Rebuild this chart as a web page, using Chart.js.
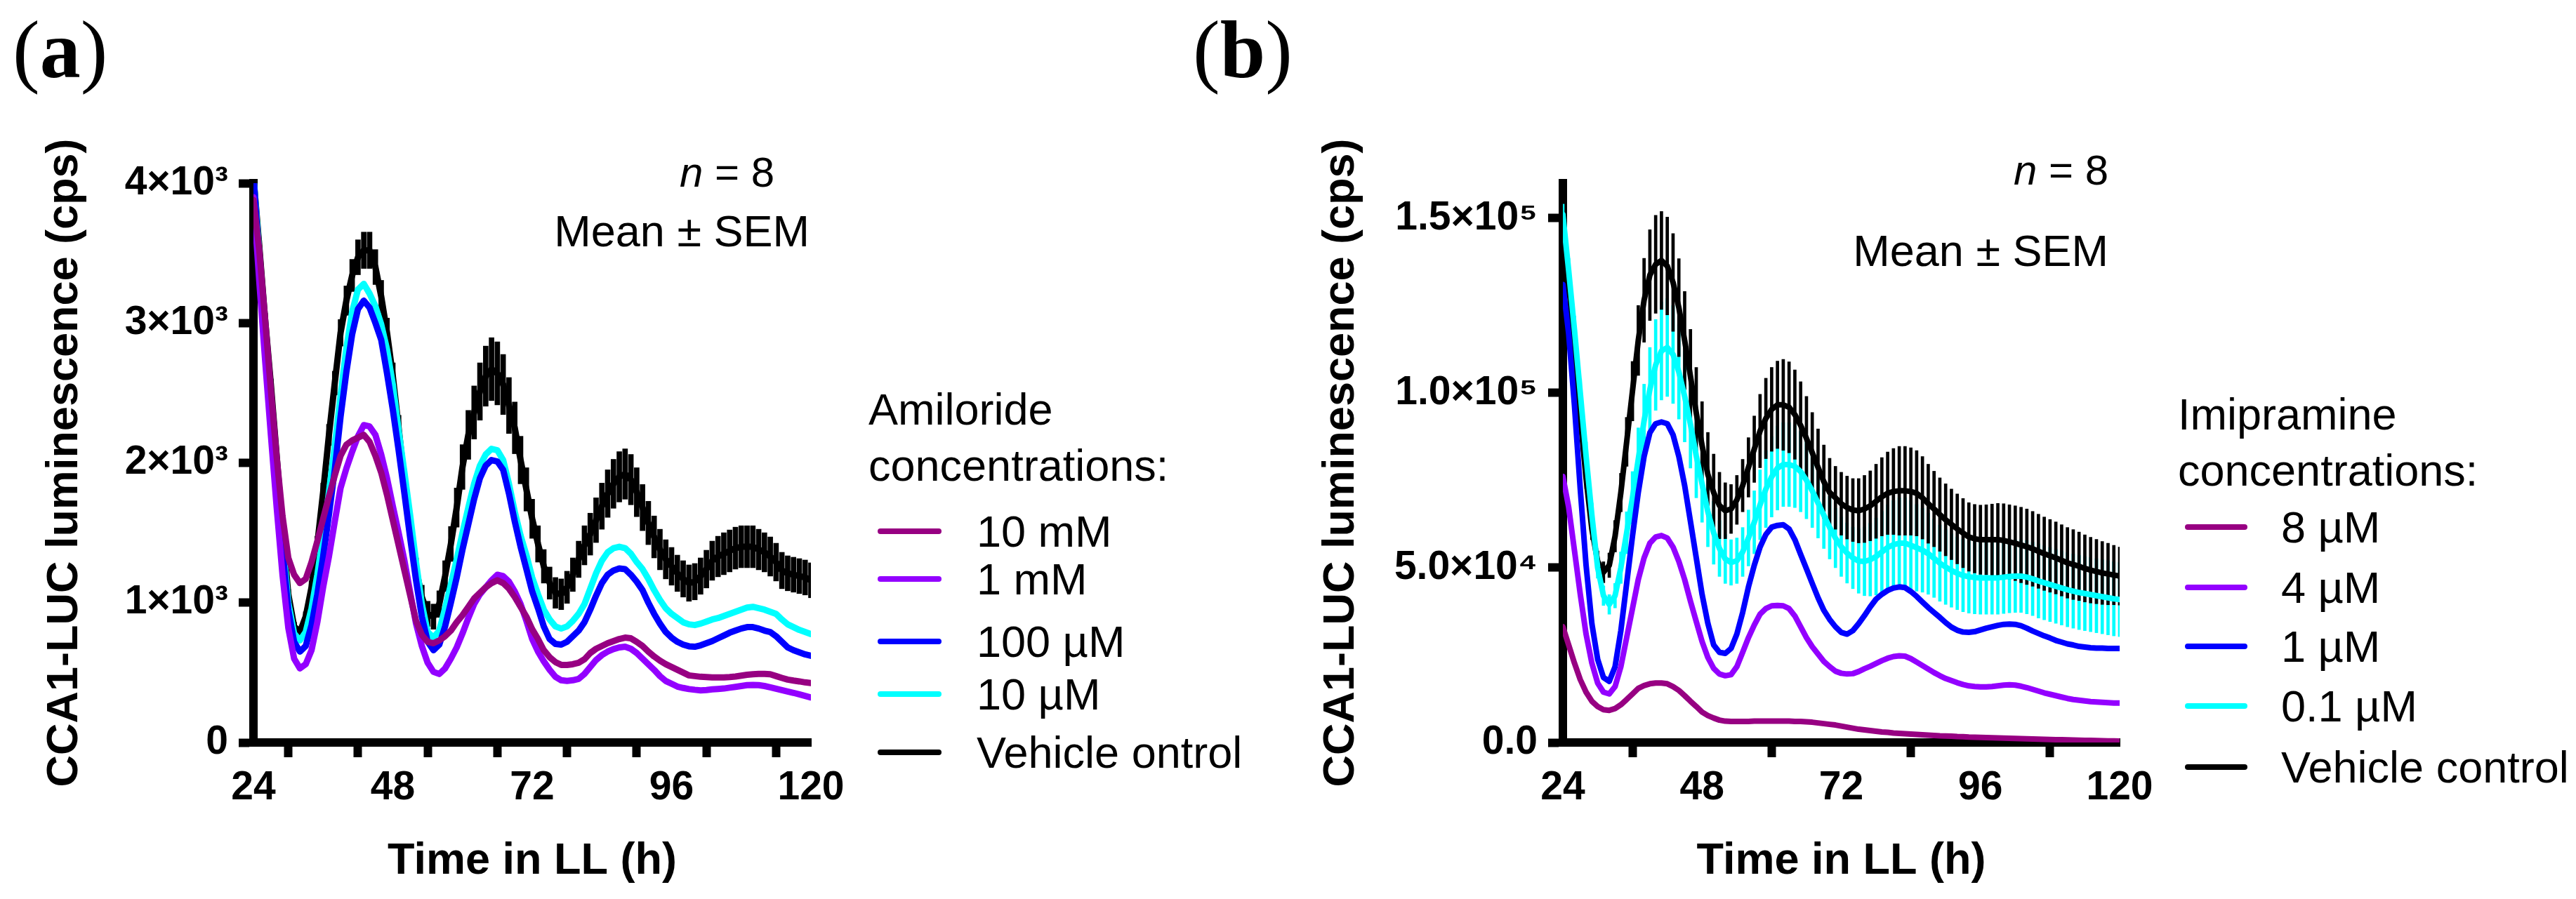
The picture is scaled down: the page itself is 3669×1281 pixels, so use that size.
<!DOCTYPE html>
<html>
<head>
<meta charset="utf-8">
<script src="https://cdn.jsdelivr.net/npm/chart.js@4.4.1/dist/chart.umd.min.js"></script>
<style>
  html, body { margin: 0; padding: 0; background: #fff; }
  #wrap { position: relative; width: 3669px; height: 1281px; overflow: hidden; background: #fff; }
  canvas { position: absolute; top: 0; }
</style>
</head>
<body>
<div id="wrap">
  <canvas id="chartA" width="1830" height="1281" style="left:0"></canvas>
  <canvas id="chartB" width="2019" height="1281" style="left:1650px"></canvas>
</div>
<script>
// time points (h in LL)
const hours = [24,25,26,27,28,29,30,31,32,33,34,35,36,37,38,39,40,41,42,43,44,45,46,47,48,49,50,51,52,53,54,55,56,57,58,59,60,
  61,62,63,64,65,66,67,68,69,70,71,72,73,74,75,76,77,78,79,80,81,82,83,84,85,86,87,88,89,90,91,92,93,94,95,96,97,98,99,100,
  101,102,103,104,105,106,107,108,109,110,111,112,113,114,115,116,117,118,119,120];

/* ---- panel (a) amiloride ---- */
const amilorideLabels = ['10 mM', '1 mM', '100 µM', '10 µM', 'Vehicle ontrol'];

const amil10mM = [3880,3520,3030,2520,2040,1620,1320,1200,1140,1170,
  1290,1440,1600,1760,1910,2050,2130,2160,2180,2200,
  2150,2050,1930,1770,1590,1410,1230,1050,870,770,
  720,710,730,760,800,860,910,970,1030,1070,
  1110,1140,1160,1140,1100,1040,970,900,810,740,
  660,610,575,555,555,560,570,595,640,670,
  690,710,725,740,750,745,720,690,650,615,
  585,560,540,520,500,480,475,470,468,465,
  465,465,468,472,478,484,488,490,490,488,
  475,462,450,443,437,430,425];
const amil1mM = [3900,3300,2740,2200,1680,1200,820,600,530,560,
  660,860,1110,1330,1580,1820,1960,2080,2190,2270,
  2260,2200,2060,1890,1690,1500,1300,1070,850,690,
  570,505,490,530,600,680,780,890,990,1060,
  1110,1160,1200,1190,1150,1080,990,870,740,650,
  580,520,470,445,440,445,455,490,540,590,
  625,650,668,680,685,670,640,600,560,520,
  475,440,420,400,390,382,377,373,375,380,
  383,386,392,398,404,410,412,410,404,395,
  385,375,365,355,344,333,322];
const amil100uM = [4050,3450,2900,2380,1870,1380,950,720,650,690,
  840,1060,1330,1630,1950,2330,2650,2920,3100,3160,
  3110,3000,2880,2640,2380,2090,1780,1460,1160,900,
  720,660,700,830,1000,1180,1380,1560,1740,1890,
  1980,2020,2010,1950,1780,1580,1400,1240,1080,960,
  830,740,705,700,720,760,800,860,950,1050,
  1140,1200,1230,1245,1240,1200,1150,1090,1000,920,
  850,790,750,720,700,688,685,695,710,725,
  745,765,785,800,815,825,825,815,800,790,
  760,720,680,660,645,630,620];
const amil10uM = [4050,3500,2950,2450,1950,1450,1000,780,730,790,
  960,1200,1480,1790,2120,2480,2820,3080,3240,3280,
  3210,3120,2990,2810,2560,2230,1930,1620,1290,990,
  790,750,800,960,1130,1310,1500,1680,1850,1980,
  2060,2100,2090,2020,1850,1650,1480,1340,1180,1060,
  950,880,830,815,830,870,920,990,1100,1210,
  1300,1360,1390,1400,1390,1350,1290,1240,1170,1090,
  1020,960,920,890,860,845,840,850,865,880,
  890,905,920,935,950,965,970,960,950,935,
  920,880,845,825,805,790,775];
const amilVehicle = [4050,3550,3030,2560,2050,1530,1060,830,790,900,
  1110,1420,1790,2200,2570,2930,3160,3340,3470,3520,
  3520,3400,3190,2930,2620,2250,1870,1530,1240,1040,
  920,900,990,1190,1420,1680,1970,2200,2360,2510,
  2620,2670,2640,2560,2410,2250,2020,1810,1600,1420,
  1260,1140,1070,1060,1110,1200,1310,1410,1490,1590,
  1690,1780,1850,1900,1920,1880,1790,1680,1570,1470,
  1380,1310,1260,1210,1170,1140,1150,1190,1240,1300,
  1330,1350,1370,1390,1400,1400,1400,1380,1360,1330,
  1290,1230,1210,1200,1190,1180,1160];
const amilVehicleSem = [40,40,40,40,40,40,35,30,30,35,
  45,55,65,75,85,95,105,115,125,130,
  130,125,115,105,95,90,85,80,80,85,
  90,90,95,110,125,140,160,175,190,205,
  215,225,225,215,200,185,170,155,140,130,
  120,115,110,110,115,120,130,140,150,160,
  165,170,175,180,180,180,175,165,155,150,
  145,140,135,130,130,130,130,130,135,140,
  145,150,150,150,150,150,150,145,140,140,
  135,130,125,125,125,125,125];

const xTickValuesA = [24, 36, 48, 60, 72, 84, 96, 108, 120];
const xTickLabelsA = ['24', '', '48', '', '72', '', '96', '', '120'];
const yTickValuesA = [0, 1000, 2000, 3000, 4000];
const yTickLabelsA = ['0', '1×10³', '2×10³', '3×10³', '4×10³'];

/* ---- panel (b) imipramine ---- */
const imipramineLabels = ['8 µM', '4 µM', '1 µM', '0.1 µM', 'Vehicle control'];

const imip8uM = [33100,27900,22700,18000,14400,11800,10300,9400,9200,9700,
  10800,12300,13900,15500,16300,16800,17000,17000,16800,16000,
  14900,13400,11800,10300,8700,7700,7000,6400,6100,6000,
  6000,6000,6000,6100,6100,6100,6100,6100,6100,6100,
  6000,6000,5900,5800,5600,5400,5200,5000,4700,4400,
  4100,3800,3600,3400,3200,3000,2900,2700,2600,2500,
  2400,2300,2200,2100,2000,1900,1850,1800,1700,1650,
  1550,1500,1450,1400,1350,1300,1250,1200,1150,1100,
  1050,1000,950,900,850,820,780,740,700,660,
  620,580,540,500,470,440,400];
const imip4uM = [76100,67300,54900,42400,31000,22700,17000,14400,13900,16000,
  21700,30000,38300,46600,52800,57000,58800,59200,58500,55900,
  51800,46600,40400,34600,28900,24300,21200,19600,19100,19400,
  21700,25800,30000,33600,36700,38300,39100,39200,39100,38300,
  36200,33100,30000,27400,25300,23200,21700,20400,19800,19600,
  19700,20300,21100,21800,22600,23400,24100,24600,24800,24700,
  24000,23000,22000,21000,20000,19100,18300,17700,17100,16600,
  16200,16000,15900,15900,16000,16200,16400,16500,16400,16100,
  15700,15200,14700,14200,13800,13400,13000,12600,12300,12100,
  11900,11700,11600,11500,11400,11300,11300];
const imip1uM = [131000,117000,96400,72500,50700,34000,23800,18600,17500,21700,
  32000,45500,59000,71500,81800,88600,91200,91700,91200,88000,
  81800,73500,63200,52800,42400,34100,27900,25800,25500,26900,
  31000,37200,44500,50700,55900,59500,61600,62100,62300,61100,
  58000,53800,49700,45500,41400,37800,35200,33100,31500,31000,
  32000,34000,36300,38800,41000,42400,43500,44200,44500,44300,
  43200,41800,40200,38600,37200,35800,34300,33000,32100,31600,
  31500,31700,32200,32700,33100,33500,33800,33900,33800,33400,
  32700,31900,31200,30500,29900,29200,28700,28200,27900,27500,
  27300,27100,27000,27000,26900,26900,26900];
const imip01uM = [151000,135000,118000,100000,82000,65000,50000,42000,39500,42000,
  50000,60000,70000,81000,92000,101000,108000,112000,113000,111000,
  106000,99000,91000,82000,74000,66000,60000,55500,52500,51500,
  52000,54500,58500,63000,68000,72500,76000,78500,79500,79500,
  79000,77500,75000,72000,68500,65000,61500,58500,56000,54200,
  52800,51900,51800,52300,53200,54500,55800,56600,57000,57000,
  56400,55700,55000,54000,52700,51300,50200,49200,48400,47800,
  47400,47200,47100,47100,47100,47100,47300,47500,47600,47600,
  47300,46800,46200,45700,45200,44700,44200,43700,43300,42900,
  42600,42300,42000,41700,41400,41100,40900];
const imip01uMSem = [3000,3500,4000,4000,4000,3500,3000,2800,2800,3500,
  4500,6000,7500,9000,10500,12000,13000,14000,14000,14000,
  13500,13000,12500,12000,11000,10000,9000,8000,7000,6500,
  6500,7000,8000,9000,10000,11000,11500,12000,12000,12000,
  11800,11500,11000,10500,10000,9500,9000,8500,8500,8600,
  8800,9200,9800,10400,11000,11600,12200,12600,13000,13000,
  12800,12400,12000,11600,11200,10900,10700,10500,10400,10400,
  10400,10400,10400,10400,10400,10400,10400,10400,10400,10400,
  10500,10500,10600,10600,10600,10600,10600,10600,10600,10600,
  10600,10600,10600,10600,10600,10600,10600];
const imipVehicle = [149000,131600,112000,93000,75600,61000,51800,48700,50700,59000,
  71500,86000,100500,115000,126500,133700,136800,137900,136300,131600,
  124400,115000,104700,94300,85000,76700,71500,67800,66300,66800,
  69400,73500,78700,83900,89100,92700,95300,96600,96600,95900,
  93800,90700,87000,82900,78700,74600,71500,70000,68300,67200,
  66500,66300,66800,67700,69000,70300,71300,71800,72000,72000,
  71800,71300,70000,68300,66800,65200,63700,62400,61100,59900,
  58800,58300,58000,58000,58000,58000,57800,57400,57000,56500,
  56000,55400,54700,54000,53400,52800,52100,51400,50900,50400,
  49800,49300,48900,48500,48200,47900,47600];
const imipVehicleSem = [2000,2500,3000,3000,3000,3000,3000,3000,3500,4500,
  5500,7000,8500,10000,12000,13000,14000,14000,14000,14000,
  14000,14000,13500,13000,12500,12000,11000,9500,8000,7000,
  7000,7500,8500,9500,10500,11500,12000,12500,13000,13000,
  12800,12500,12000,11500,11000,10500,9800,9000,9000,9000,
  9000,9200,9600,10000,10600,11200,11800,12300,12700,12700,
  12500,12200,11800,11300,10800,10500,10300,10100,10000,9900,
  9800,9800,9900,10000,10200,10400,10500,10600,10700,10800,
  10800,10700,10600,10500,10400,10300,10200,10100,10000,9800,
  9600,9400,9200,9000,8800,8500,8300];

const xTickValuesB = [24, 48, 72, 96, 120];
const xTickLabelsB = ['24', '48', '72', '96', '120'];
const yTickValuesB = [0, 50000, 100000, 150000];
const yTickLabelsB = ['0.0', '5.0×10⁴', '1.0×10⁵', '1.5×10⁵'];

// same colour order in both panels: highest dose ... vehicle
const seriesColors = ['#970082', '#9300ff', '#0000ff', '#00ffff', '#000000'];

const SANS = '"Liberation Sans", Arial, sans-serif';
const SERIF = '"Liberation Serif", "Times New Roman", serif';

function lineSet(label, values, color, width, order) {
  return {
    type: 'line',
    label: label,
    data: hours.map((h, i) => ({ x: h, y: values[i] })),
    borderColor: color,
    backgroundColor: color,
    borderWidth: width,
    pointRadius: 0,
    pointHoverRadius: 0,
    tension: 0,
    fill: false,
    borderJoinStyle: 'round',
    borderCapStyle: 'round',
    order: order
  };
}

function semSet(label, values, sem, color, thickness, order) {
  return {
    type: 'bar',
    label: label + ' SEM',
    data: hours.map((h, i) => ({ x: h, y: [values[i] - sem[i], values[i] + sem[i]] })),
    backgroundColor: color,
    borderWidth: 0,
    barThickness: thickness,
    grouped: false,
    order: order
  };
}

// text that Chart.js has no element for: panel letter, n / SEM note, side legend
const panelText = {
  id: 'panelText',
  afterDraw(chart, args, o) {
    const ctx = chart.ctx;
    ctx.save();
    ctx.fillStyle = '#000';
    ctx.textBaseline = 'alphabetic';
    ctx.textAlign = 'left';

    // "(a)": light brackets, bold letter
    let x = o.letterX;
    ctx.font = '116px ' + SERIF;
    ctx.fillText('(', x, 110);
    x += ctx.measureText('(').width;
    ctx.font = 'bold 116px ' + SERIF;
    ctx.fillText(o.letter, x, 110);
    x += ctx.measureText(o.letter).width;
    ctx.font = '116px ' + SERIF;
    ctx.fillText(')', x, 110);

    // "n = 8" with italic n, right aligned
    ctx.font = '60px ' + SANS;
    const rest = ' = 8';
    const restW = ctx.measureText(rest).width;
    ctx.font = 'italic 60px ' + SANS;
    const nW = ctx.measureText('n').width;
    ctx.fillText('n', o.nRight - restW - nW, o.nY);
    ctx.font = '60px ' + SANS;
    ctx.fillText(rest, o.nRight - restW, o.nY);

    ctx.font = '63px ' + SANS;
    ctx.textAlign = 'right';
    ctx.fillText('Mean ± SEM', o.semRight, o.semY);

    // legend
    const lg = o.legend;
    ctx.textAlign = 'left';
    ctx.font = '63px ' + SANS;
    lg.title.forEach((t, i) => ctx.fillText(t, lg.titleX, lg.titleY[i]));
    ctx.lineWidth = 8;
    ctx.lineCap = 'round';
    lg.labels.forEach((lab, i) => {
      const y = lg.rowY[i];
      ctx.strokeStyle = lg.colors[i];
      ctx.beginPath();
      ctx.moveTo(lg.lineX1 + 4, y);
      ctx.lineTo(lg.lineX2 - 4, y);
      ctx.stroke();
      ctx.fillText(lab, lg.textX, y + 22);
    });
    ctx.restore();
  }
};

function axes(cfg) {
  return {
    x: {
      type: 'linear',
      min: 24,
      max: 120,
      offset: false,
      afterFit: (s) => { s.height = 223; },
      afterBuildTicks: (s) => { s.ticks = cfg.xVals.map(v => ({ value: v })); },
      ticks: {
        autoSkip: false,
        maxRotation: 0,
        padding: 10,
        color: '#000',
        font: { family: SANS, size: 57, weight: 'bold' },
        callback: (v) => { const k = cfg.xVals.indexOf(v); return k < 0 ? '' : cfg.xLabs[k]; }
      },
      grid: { display: true, drawOnChartArea: false, drawTicks: true, tickLength: 21, tickWidth: 12, tickColor: '#000' },
      border: { display: true, width: 12, color: '#000' },
      title: {
        display: true,
        text: 'Time in LL (h)',
        color: '#000',
        font: { family: SANS, size: 63, weight: 'bold' },
        padding: { top: 0, bottom: 16 }
      }
    },
    y: {
      type: 'linear',
      min: 0,
      max: cfg.yMax,
      afterFit: (s) => { s.width = cfg.yWidth; },
      afterBuildTicks: (s) => { s.ticks = cfg.yVals.map(v => ({ value: v })); },
      ticks: {
        autoSkip: false,
        padding: 15,
        color: '#000',
        font: { family: SANS, size: 57, weight: 'bold' },
        callback: (v) => { const k = cfg.yVals.indexOf(v); return k < 0 ? '' : cfg.yLabs[k]; }
      },
      grid: { display: true, drawOnChartArea: false, drawTicks: true, tickLength: 21, tickWidth: 12, tickColor: '#000' },
      border: { display: true, width: 12, color: '#000' },
      title: {
        display: true,
        text: 'CCA1-LUC luminescence (cps)',
        color: '#000',
        font: { family: SANS, size: 63, weight: 'bold' },
        padding: { top: cfg.yTitlePad, bottom: 0 }
      }
    }
  };
}

/* panel (a) */
const seriesA = [amil10mM, amil1mM, amil100uM, amil10uM, amilVehicle];
const datasetsA = seriesA.map((vals, i) => lineSet(amilorideLabels[i], vals, seriesColors[i], 9, i + 1));
datasetsA.push(semSet(amilorideLabels[4], amilVehicle, amilVehicleSem, '#000000', 7, 10));

new Chart(document.getElementById('chartA'), {
  type: 'line',
  data: { datasets: datasetsA },
  options: {
    responsive: false,
    animation: false,
    devicePixelRatio: 1,
    events: [],
    layout: { padding: { left: 0, top: 261, right: 1830 - 1155, bottom: 0 } },
    plugins: {
      legend: { display: false },
      tooltip: { enabled: false },
      panelText: {
        letter: 'a', letterX: 18,
        nRight: 1103, nY: 266,
        semRight: 1153, semY: 351,
        legend: {
          title: ['Amiloride', 'concentrations:'],
          titleX: 1237, titleY: [605, 685],
          labels: amilorideLabels, colors: seriesColors,
          rowY: [757, 825, 914, 989, 1072],
          lineX1: 1250, lineX2: 1341, textX: 1391
        }
      }
    },
    scales: axes({
      xVals: xTickValuesA, xLabs: xTickLabelsA,
      yVals: yTickValuesA, yLabs: yTickLabelsA,
      yMax: 4000, yWidth: 361, yTitlePad: 55
    })
  },
  plugins: [panelText]
});

/* panel (b) */
const seriesB = [imip8uM, imip4uM, imip1uM, imip01uM, imipVehicle];
const datasetsB = seriesB.map((vals, i) => lineSet(imipramineLabels[i], vals, seriesColors[i], 8, i + 1));
datasetsB.push(semSet(imipramineLabels[4], imipVehicle, imipVehicleSem, '#000000', 4, 10));
datasetsB.push(semSet(imipramineLabels[3], imip01uM, imip01uMSem, '#00ffff', 4, 11));

new Chart(document.getElementById('chartB'), {
  type: 'line',
  data: { datasets: datasetsB },
  options: {
    responsive: false,
    animation: false,
    devicePixelRatio: 1,
    events: [],
    layout: { padding: { left: 0, top: 261, right: 2019 - 1369, bottom: 0 } },
    plugins: {
      legend: { display: false },
      tooltip: { enabled: false },
      panelText: {
        letter: 'b', letterX: 49,
        nRight: 1353, nY: 263,
        semRight: 1353, semY: 379,
        legend: {
          title: ['Imipramine', 'concentrations:'],
          titleX: 1452, titleY: [612, 692],
          labels: imipramineLabels, colors: seriesColors,
          rowY: [751, 837, 921, 1006, 1093],
          lineX1: 1462, lineX2: 1551, textX: 1599
        }
      }
    },
    scales: axes({
      xVals: xTickValuesB, xLabs: xTickLabelsB,
      yVals: yTickValuesB, yLabs: yTickLabelsB,
      yMax: 160000, yWidth: 576, yTitlePad: 223
    })
  },
  plugins: [panelText]
});
</script>
</body>
</html>
